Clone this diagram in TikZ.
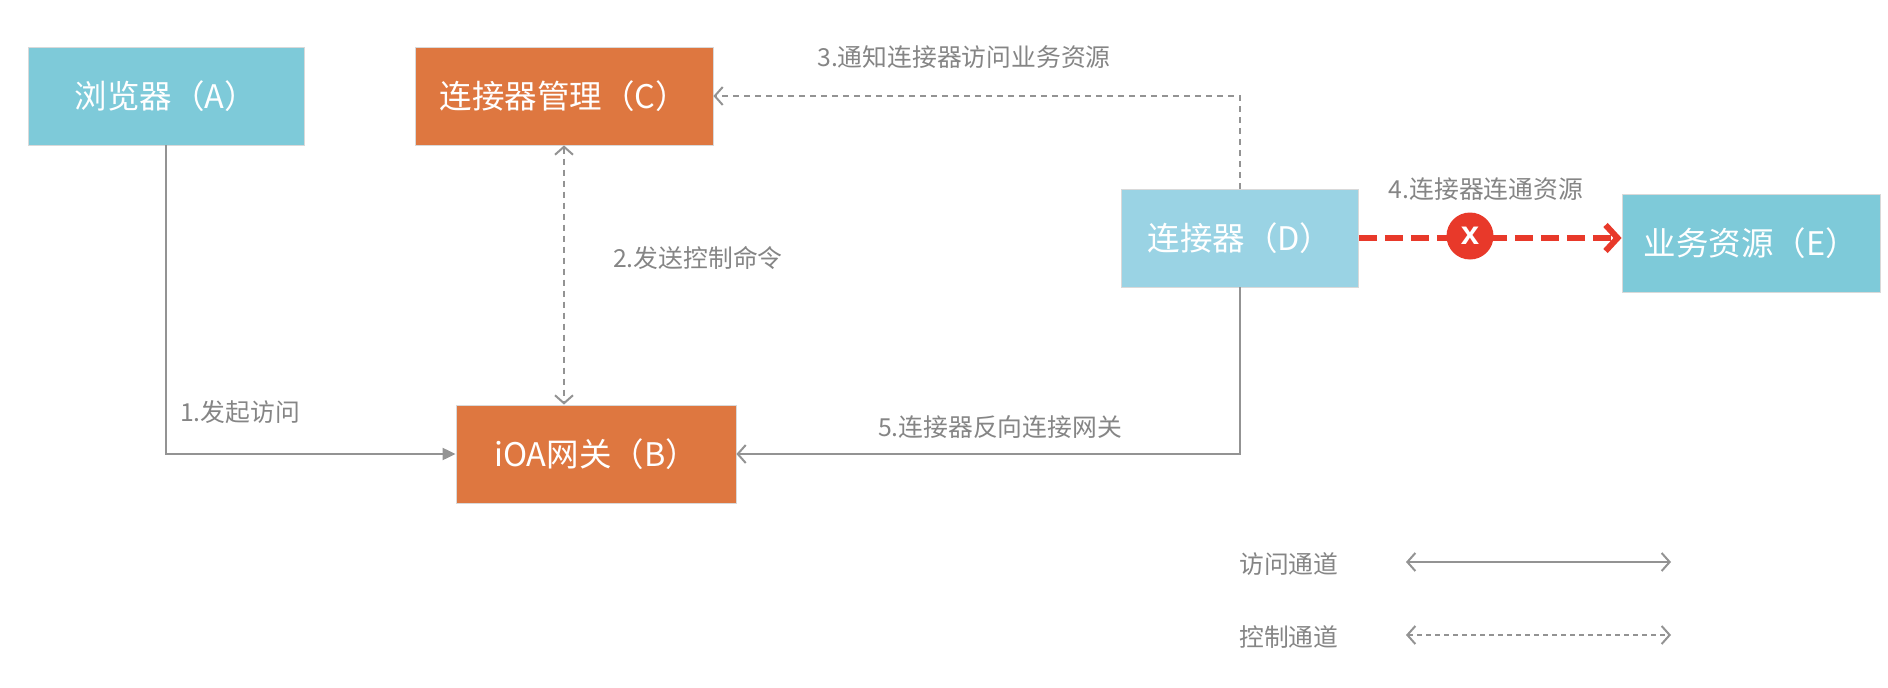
\documentclass[tikz,border=0pt]{standalone}
\usepackage{fontspec}
\setmainfont{Noto Sans CJK SC}
\newfontfamily\xfont{Liberation Sans}
\usetikzlibrary{arrows.meta}
\definecolor{boxblue}{HTML}{7ECAD9}
\definecolor{boxlblue}{HTML}{9AD3E4}
\definecolor{boxorange}{HTML}{DE7740}
\definecolor{linegray}{HTML}{939393}
\definecolor{textgray}{HTML}{858585}
\definecolor{alertred}{HTML}{E8392A}
\tikzset{
  x=1pt, y=-1pt,
  box/.style={rectangle, draw=white!85!black, line width=0.8pt, minimum height=98pt, text=white, font=\fontsize{32.5}{36}\selectfont, inner sep=0pt},
  lbl/.style={text=textgray, font=\fontsize{24.8}{28}\selectfont, inner sep=0pt},
  acc/.style={draw=linegray, line width=2pt},
  ctl/.style={draw=linegray, line width=2pt, dash pattern=on 6pt off 5pt},
  redline/.style={draw=alertred, line width=6pt, dash pattern=on 18pt off 8pt},
}
\begin{document}
\begin{tikzpicture}
\useasboundingbox (0,0) rectangle (1888,688);
\node[box, fill=boxblue, minimum width=276pt] (A) at (166,96) {浏览器（A）};
\node[box, fill=boxorange, minimum width=298pt] (C) at (564,96) {连接器管理（C）};
\node[box, fill=boxorange, minimum width=280pt] (B) at (596,454) {iOA网关（B）};
\node[box, fill=boxlblue, minimum width=237pt] (D) at (1240,238) {连接器（D）};
\node[box, fill=boxblue, minimum width=258pt] (E) at (1751,243) {业务资源（E）};

% 1
\draw[acc, -{Triangle[length=13pt, width=12pt]}] (A.south) |- (B.west);
\node[lbl, anchor=west] (l1) at (180,412) {1.发起访问};
% 2
\draw[ctl, {Straight Barb[length=8pt, width=18pt, line width=2pt]}-{Straight Barb[length=8pt, width=18pt, line width=2pt]}] (C.south) -- (C.south |- B.north);
\node[lbl, anchor=west] (l2) at (613,258) {2.发送控制命令};
% 3
\draw[ctl, -{Straight Barb[length=8pt, width=18pt, line width=2pt]}] (D.north) |- (C.east);
\node[lbl] (l3) at (964,57) {3.通知连接器访问业务资源};
% 4
\draw[redline, -{Straight Barb[length=12pt, width=26pt, line width=6pt]}] (D.east) -- (D.east -| E.west);
\node[circle, fill=alertred, minimum size=47pt, inner sep=0pt, text=white, font=\xfont\bfseries\fontsize{33}{34}\selectfont] (X) at (1470,236) {x};
\node[lbl] (l4) at (1486,189) {4.连接器连通资源};
% 5
\draw[acc, -{Straight Barb[length=8pt, width=18pt, line width=2pt]}] (D.south) |- (B.east);
\node[lbl] (l5) at (1000,427) {5.连接器反向连接网关};

% legend
\node[lbl, anchor=west] (g1) at (1239,564) {访问通道};
\node[lbl, anchor=west] (g2) at (1239,637) {控制通道};
\coordinate (a1) at (1406,562);
\coordinate (a2) at (1671,562);
\coordinate (c1) at (1406,635);
\coordinate (c2) at (1671,635);
\draw[acc, {Straight Barb[length=8pt, width=18pt, line width=2pt]}-{Straight Barb[length=8pt, width=18pt, line width=2pt]}] (a1) -- (a2);
\draw[ctl, dash pattern=on 5pt off 4pt, {Straight Barb[length=8pt, width=18pt, line width=2pt]}-{Straight Barb[length=8pt, width=18pt, line width=2pt]}] (c1) -- (c2);
\end{tikzpicture}
\end{document}
